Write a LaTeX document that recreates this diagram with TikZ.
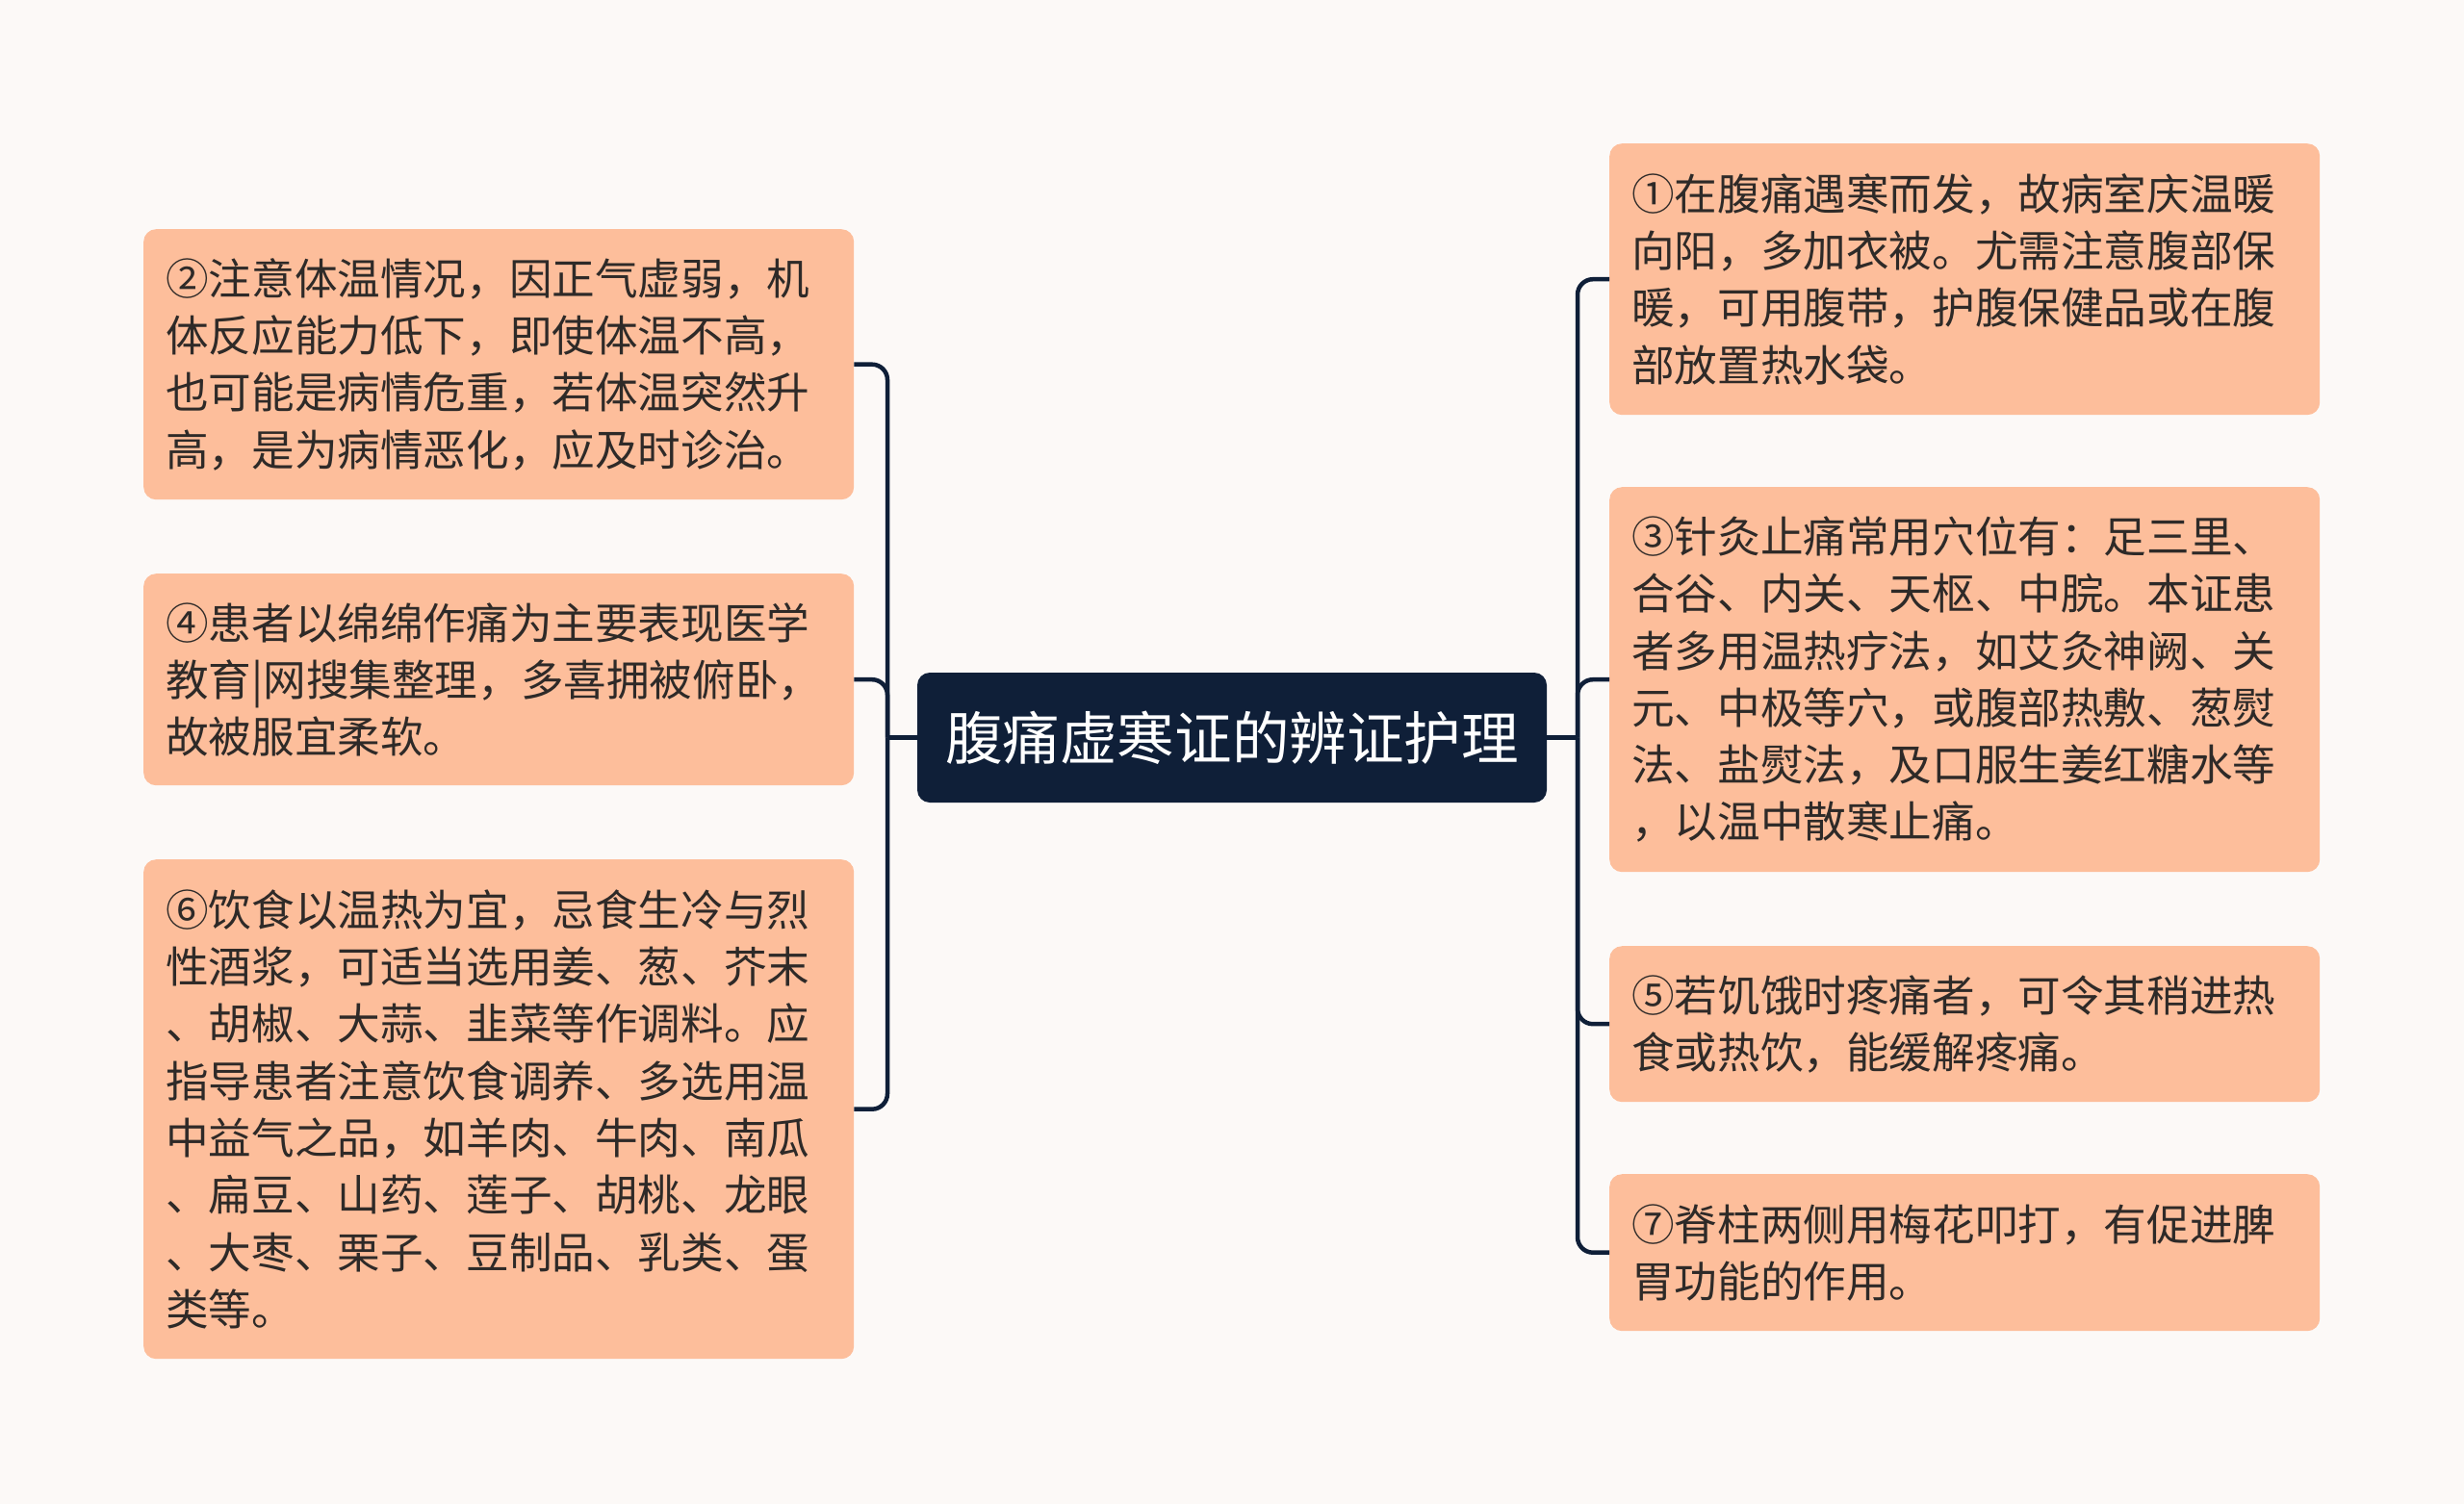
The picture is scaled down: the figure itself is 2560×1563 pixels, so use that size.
\documentclass[tikz,border=0pt]{standalone}
\usepackage{fontspec}
\setmainfont{Noto Sans CJK SC}
\definecolor{bg}{HTML}{FCF9F7}
\definecolor{boxfill}{HTML}{FDBE9B}
\definecolor{navy}{HTML}{0F1F38}
\definecolor{txt}{HTML}{2E2A28}
\begin{document}
\begin{tikzpicture}[x=1pt,y=-1pt,
  leaf/.style={draw=none, fill=boxfill, rounded corners=13pt, text width=692pt,
    inner xsep=23pt, inner ysep=0pt, align=left, anchor=north west,
    font=\fontsize{44.6}{59.3}\selectfont, text=txt},
  rootbox/.style={draw=none, fill=navy, rounded corners=13pt, minimum width=654pt,
    minimum height=135pt, inner sep=0pt, text=white, font=\fontsize{59.6}{70}\selectfont},
  conn/.style={draw=navy, line width=4.5pt, rounded corners=16pt}
]
\fill[bg] (0,0) rectangle (2560,1563);
\useasboundingbox (0,0) rectangle (2560,1563);

\node[rootbox] (root) at (1280,766.5) {腹痛虚寒证的辨证护理};

% left
\node[leaf, minimum height=281pt] (L1) at (149,238) {②注意体温情况，因正气虚弱，机\\体反应能力低下，即使体温不高，\\也可能是病情危重，若体温突然升\\高，是为病情恶化，应及时诊治。};
\node[leaf, minimum height=220pt] (L2) at (149,596) {④患者以绵绵作痛为主要表现医学\\教育|网搜集整理，多喜拥被俯卧，\\故被服宜柔软。};
\node[leaf, minimum height=519pt] (L3) at (149,893) {⑥饮食以温热为宜，忌食生冷与烈\\性酒浆，可适当选用姜、葱、芥末\\、胡椒、大蒜、韭菜等作调料。应\\指导患者注意饮食调养、多选用温\\中益气之品，如羊肉、牛肉、南瓜\\、扁豆、山药、莲子、胡桃、龙眼\\、大枣、栗子、豆制品、乳类、蛋\\类等。};

% right
\node[leaf, minimum height=282pt] (R1) at (1672,149) {①在腹痛遇寒而发，故病室庆温暖\\向阳，多加衣被。尤需注意腹部保\\暖，可用腹带，护腹保健品或在腹\\部放置热水袋。};
\node[leaf, minimum height=400pt] (R3) at (1672,506) {③针灸止痛常用穴位有：足三里、\\合谷、内关、天枢、中脘。本证患\\者多用温热疗法，如艾灸神阙、关\\元、中极等穴，或腹部热敷、葱熨\\法、盐熨法，及口服生姜红糖水等\\，以温中散寒止痛。};
\node[leaf, minimum height=162pt] (R5) at (1672,983) {⑤若饥饿时疼痛者，可令其稍进热\\食或热饮，能缓解疼痛。};
\node[leaf, minimum height=163pt] (R7) at (1672,1220) {⑦脊柱两侧用梅花叩打，有促进脾\\胃功能的作用。};

\coordinate (jl) at (922,766.5);
\coordinate (jr) at (1639,766.5);
\draw[conn] (root.west) -- (jl);
\draw[conn] (root.east) -- (jr);
\draw[conn] (L1.east) -| (jl);
\draw[conn] (L2.east) -| (jl);
\draw[conn] (L3.east) -| (jl);
\draw[conn] (R1.west) -| (jr);
\draw[conn] (R3.west) -| (jr);
\draw[conn] (R5.west) -| (jr);
\draw[conn] (R7.west) -| (jr);
\end{tikzpicture}
\end{document}
